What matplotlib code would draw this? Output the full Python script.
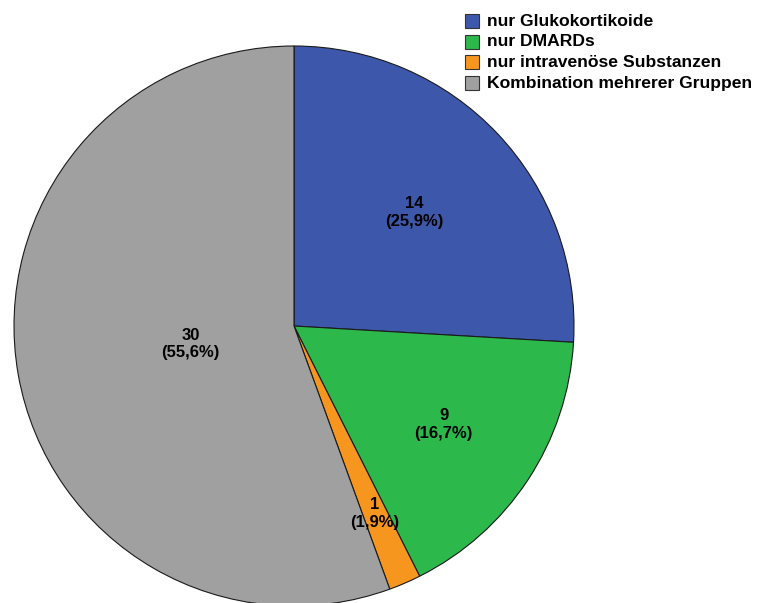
import numpy as np
import matplotlib.pyplot as plt
from matplotlib.patches import Rectangle

plt.rcParams['font.family'] = ['Liberation Sans', 'DejaVu Sans']

# Daten
kategorien = ['nur Glukokortikoide', 'nur DMARDs', 'nur intravenöse Substanzen',
              'Kombination mehrerer Gruppen']
anzahl = [14, 9, 1, 30]
prozent = ['25,9%', '16,7%', '1,9%', '55,6%']
farben = ['#3D58AB', '#2DB84B', '#F7961E', '#A0A0A0']
label_r = [0.59, 0.64, 0.73, 0.375]

W, H = 758, 603
fig = plt.figure(figsize=(W / 100, H / 100), dpi=100)
cx, cy, r = 294, 326, 280
ax = fig.add_axes([(cx - r) / W, (H - cy - r) / H, 2 * r / W, 2 * r / H])

wedges, _ = ax.pie(anzahl, colors=farben, startangle=90, counterclock=False,
                   radius=1, wedgeprops=dict(edgecolor='#1a1a1a', linewidth=0.8))
ax.set_xlim(-1, 1)
ax.set_ylim(-1, 1)
ax.set_aspect('equal')
ax.axis('off')

# Beschriftungen in den Segmenten
for w, n, p, rr in zip(wedges, anzahl, prozent, label_r):
    ang = np.deg2rad((w.theta1 + w.theta2) / 2)
    ax.text(rr * np.cos(ang), rr * np.sin(ang), f'{n}\n({p})', ha='center', va='center',
            fontsize=12, fontweight='bold', linespacing=1.2, color='black')

# Legende von Hand
for i, (k, f) in enumerate(zip(kategorien, farben)):
    y = 21 + i * 20.7
    fig.patches.append(Rectangle((465 / W, 1 - (y + 7) / H), 14 / W, 14 / H,
                                 transform=fig.transFigure, facecolor=f,
                                 edgecolor='#333333', linewidth=0.8))
    fig.text(487 / W, 1 - y / H, k, ha='left', va='center', fontsize=12.6,
             fontweight='bold')

fig.savefig('out.png', dpi=100)
